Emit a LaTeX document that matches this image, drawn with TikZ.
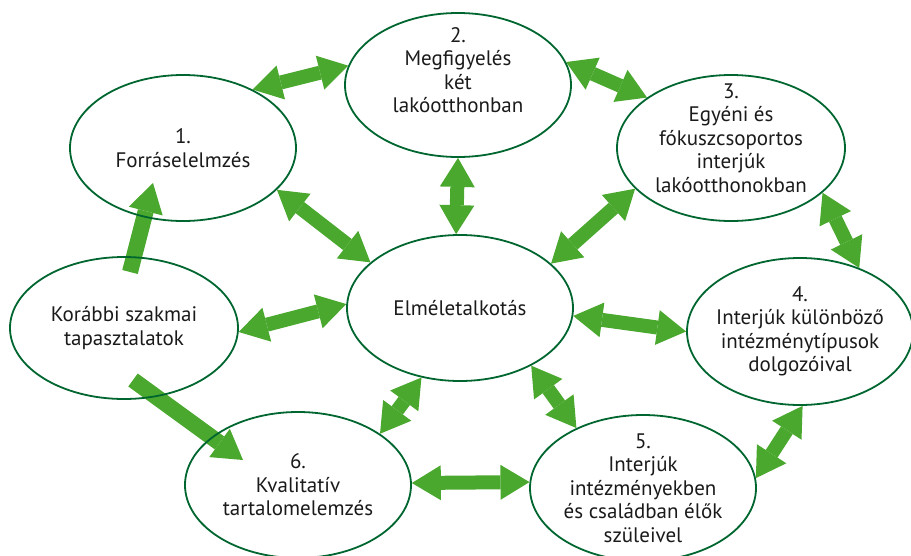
\documentclass[tikz,border=0pt]{standalone}
\usepackage{fontspec}
\setmainfont{PT Sans}
\usetikzlibrary{shapes.geometric,arrows.meta,calc}
\pgfdeclarelayer{bg}
\pgfsetlayers{bg,main}
\definecolor{arrgreen}{RGB}{74,168,46}
\definecolor{ellgreen}{RGB}{0,102,48}
\definecolor{txtcol}{RGB}{26,26,26}
\tikzset{
  ell/.style={ellipse, draw=ellgreen, line width=1.8pt, minimum width=226pt, minimum height=146pt, inner sep=0pt},
  txt/.style={align=center, text=txtcol, font=\fontsize{21}{23.5}\selectfont, inner sep=0pt},
  dbl/.style={draw=arrgreen, line width=14pt, {Triangle[width=35pt,length=29pt,line width=0pt]}-{Triangle[width=35pt,length=29pt,line width=0pt]}},
  sgl/.style={draw=arrgreen, line width=16pt, -{Triangle[width=35pt,length=29pt,line width=0pt]}},
}
\begin{document}
\begin{tikzpicture}[x=1pt,y=-1pt]
\useasboundingbox (0,0) rectangle (911,555);
% ellipses
\node[ell] (n1) at (183,148) {};
\node[ell, minimum height=144pt] (n2) at (458,85) {};
\node[ell, minimum width=228pt] (n3) at (731,148) {};
\node[ell, minimum height=147pt] (n4) at (800,331.5) {};
\node[ell] (n5) at (643,488) {};
\node[ell] (n6) at (298,485) {};
\node[ell, minimum width=228pt, minimum height=142pt] (nK) at (124,328) {};
\node[ell] (nE) at (460,308) {};
% texts
\node[txt] (t1) at (n1.center) {1.\\Forráselelmzés};
\node[txt] (t2) at ([yshift=15pt]n2.center) {2.\\Megfigyelés\\két\\lakóotthonban};
\node[txt] (t3) at ([yshift=10pt]n3.center) {3.\\Egyéni és\\fókuszcsoportos\\interjúk\\lakóotthonokban};
\node[txt] (t4) at (n4.center) {4.\\Interjúk különböző\\intézménytípusok\\dolgozóival};
\node[txt] (t5) at (n5.center) {5.\\Interjúk\\intézményekben\\és családban élők\\szüleivel};
\node[txt] (t6) at (n6.center) {6.\\Kvalitatív\\tartalomelemzés};
\node[txt] (tK) at (nK.center) {Korábbi szakmai\\tapasztalatok};
\node[txt] (tE) at (nE.center) {Elméletalkotás};
% arrows
\begin{pgfonlayer}{bg}
\draw[dbl] (n1.40) -- (n2.170);
\draw[dbl] (n2.12) -- (n3.149);
\draw[dbl] (n1.-24) -- (nE.153);
\draw[dbl] (n2.-90) -- (nE.93);
\draw[dbl] (n3.203) -- (nE.26);
\draw[dbl] (n3.-26) -- (n4.47);
\draw[dbl] (nE.-4.5) -- (n4.180);
\draw[dbl] (nE.-39) -- (n5.138);
\draw[dbl] (n4.-88) -- (n5.5);
\draw[dbl] (nE.-119) -- (n6.32);
\draw[dbl] (n6.1) -- (n5.177);
\draw[dbl] (nK.-2) -- (nE.178);
\draw[sgl] ($(nK.center)+(6,-56)$) coordinate (k1) -- ($(n1.center)+(-30,35)$) coordinate (k2);
\draw[sgl] ($(nK.center)+(9,52)$) coordinate (k3) -- ($(n6.center)+(-55,-25)$) coordinate (k4);
\end{pgfonlayer}
\end{tikzpicture}
\end{document}
